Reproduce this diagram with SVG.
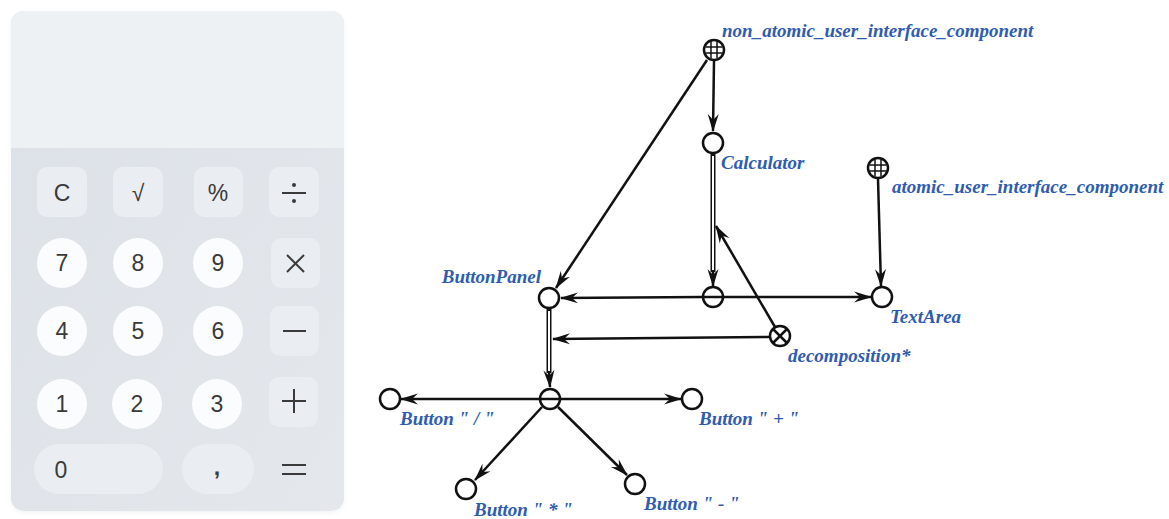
<svg xmlns="http://www.w3.org/2000/svg" width="1169" height="519" viewBox="0 0 1169 519">
  <defs>
    <marker id="arrow" viewBox="0 0 18 12" refX="17" refY="6" markerWidth="18" markerHeight="12" markerUnits="userSpaceOnUse" orient="auto">
      <path d="M0,0.5 L18,6 L0,11.5 L6,6 Z" fill="#111"/>
    </marker>
    <clipPath id="globeClip1"><circle cx="714" cy="50" r="9"/></clipPath>
    <clipPath id="globeClip2"><circle cx="878" cy="168" r="9"/></clipPath>
    <linearGradient id="padGrad" x1="0" y1="0" x2="1" y2="1">
      <stop offset="0" stop-color="#dce1e7"/>
      <stop offset="1" stop-color="#e4e8ed"/>
    </linearGradient>
    <filter id="soft" x="-10%" y="-10%" width="120%" height="120%">
      <feGaussianBlur stdDeviation="2"/>
    </filter>
  </defs>
  <style>
    .key { font-family: "Liberation Sans", Arial, sans-serif; font-size: 23px; fill: #3a3a3a; text-anchor: middle; }
    .sq { fill: #eaedf1; }
    .rd { fill: #fbfcfd; }
    .op { stroke: #3a3a3a; stroke-width: 2; fill: none; }
    .lbl { font-family: "Liberation Serif", "Times New Roman", serif; font-style: italic; font-weight: bold; font-size: 19px; fill: #2f5caf; }
    .node { fill: #fff; stroke: #111; stroke-width: 2.5; }
    .mark { stroke: #111; stroke-width: 2.5; fill: none; }
    .edge { stroke: #111; stroke-width: 2.5; fill: none; marker-end: url(#arrow); }
    .dbl-outer { stroke: #111; stroke-width: 5; fill: none; }
    .dbl-inner { stroke: #fff; stroke-width: 2; fill: none; }
  </style>

  <rect width="1169" height="519" fill="#ffffff"/>

  <!-- calculator mock-up -->
  <g id="calculator">
    <rect x="11" y="13" width="333" height="500" rx="14" fill="#e8ebef" filter="url(#soft)" opacity="0.6"/>
    <rect x="11" y="11" width="333" height="500" rx="13" fill="url(#padGrad)"/>
    <path d="M24,11 H331 A13,13 0 0 1 344,24 V148 H11 V24 A13,13 0 0 1 24,11 Z" fill="#eef1f4"/>

    <!-- row 1 -->
    <rect class="sq" x="37" y="167" width="50" height="50" rx="10"/>
    <rect class="sq" x="113" y="167" width="50" height="50" rx="10"/>
    <rect class="sq" x="194" y="167" width="49" height="50" rx="10"/>
    <rect class="sq" x="269" y="167" width="50" height="50" rx="10"/>
    <text class="key" x="62" y="201">C</text>
    <text class="key" x="138" y="201">√</text>
    <text class="key" x="218" y="201">%</text>
    <line class="op" x1="282" y1="193" x2="306" y2="193"/>
    <circle cx="294" cy="185" r="2" fill="#3a3a3a"/>
    <circle cx="294" cy="201" r="2" fill="#3a3a3a"/>

    <!-- row 2 -->
    <circle class="rd" cx="62" cy="263" r="25"/>
    <circle class="rd" cx="138" cy="263" r="25"/>
    <circle class="rd" cx="218" cy="263" r="25"/>
    <rect class="sq" x="271" y="238" width="49" height="50" rx="10"/>
    <text class="key" x="62" y="271">7</text>
    <text class="key" x="138" y="271">8</text>
    <text class="key" x="218" y="271">9</text>
    <line class="op" x1="287" y1="255" x2="304" y2="272"/>
    <line class="op" x1="304" y1="255" x2="287" y2="272"/>

    <!-- row 3 -->
    <circle class="rd" cx="62" cy="331" r="25"/>
    <circle class="rd" cx="138" cy="331" r="25"/>
    <circle class="rd" cx="218" cy="331" r="25"/>
    <rect class="sq" x="270" y="306" width="49" height="50" rx="10"/>
    <text class="key" x="62" y="339">4</text>
    <text class="key" x="138" y="339">5</text>
    <text class="key" x="218" y="339">6</text>
    <line class="op" x1="283" y1="331" x2="306" y2="331"/>

    <!-- row 4 -->
    <circle class="rd" cx="62" cy="404" r="25"/>
    <circle class="rd" cx="137" cy="404" r="25"/>
    <circle class="rd" cx="217" cy="404" r="25"/>
    <rect class="sq" x="269" y="377" width="49" height="50" rx="10"/>
    <text class="key" x="62" y="412">1</text>
    <text class="key" x="137" y="412">2</text>
    <text class="key" x="217" y="412">3</text>
    <line class="op" x1="282" y1="401" x2="306" y2="401"/>
    <line class="op" x1="294" y1="389" x2="294" y2="413"/>

    <!-- row 5 -->
    <rect class="sq" x="34" y="444" width="129" height="50" rx="25"/>
    <rect class="sq" x="182" y="444" width="72" height="50" rx="25"/>
    <text class="key" x="61" y="478" fill="#555">0</text>
    <text class="key" x="217" y="475" style="font-weight:bold">,</text>
    <line class="op" x1="282" y1="465" x2="306" y2="465"/>
    <line class="op" x1="282" y1="474" x2="306" y2="474"/>
  </g>

  <!-- connectors -->
  <g id="connectors">
    <line class="edge" x1="714" y1="61" x2="713" y2="131"/>
    <line class="edge" x1="707" y1="60" x2="556" y2="288"/>
    <line class="dbl-outer" x1="713" y1="154" x2="713" y2="272"/>
    <line class="dbl-inner" x1="713" y1="156" x2="713" y2="272"/>
    <line class="edge" x1="713" y1="270" x2="713" y2="286"/>
    <line class="edge" x1="702" y1="297" x2="561" y2="298"/>
    <line class="edge" x1="724" y1="297" x2="871" y2="297"/>
    <line class="edge" x1="878" y1="179" x2="881" y2="286"/>
    <line class="edge" x1="775" y1="327" x2="716" y2="226"/>
    <line class="edge" x1="769" y1="337" x2="553" y2="339"/>
    <line class="dbl-outer" x1="549" y1="309" x2="549" y2="373"/>
    <line class="dbl-inner" x1="549" y1="311" x2="549" y2="373"/>
    <line class="edge" x1="549" y1="371" x2="550" y2="387"/>
    <line class="edge" x1="539" y1="399" x2="401" y2="399"/>
    <line class="edge" x1="561" y1="399" x2="681" y2="399"/>
    <line class="edge" x1="542" y1="407" x2="475" y2="480"/>
    <line class="edge" x1="558" y1="407" x2="627" y2="475"/>
  </g>

  <!-- nodes -->
  <g id="non_atomic_user_interface_component">
    <circle class="node" cx="714" cy="50" r="10"/>
    <g clip-path="url(#globeClip1)" stroke="#111" stroke-width="1.5">
      <line x1="711" y1="38" x2="711" y2="62"/>
      <line x1="717" y1="38" x2="717" y2="62"/>
      <line x1="702" y1="47" x2="726" y2="47"/>
      <line x1="702" y1="53" x2="726" y2="53"/>
    </g>
    <text class="lbl" x="722" y="37">non_atomic_user_interface_component</text>
  </g>

  <g id="atomic_user_interface_component">
    <circle class="node" cx="878" cy="168" r="10"/>
    <g clip-path="url(#globeClip2)" stroke="#111" stroke-width="1.5">
      <line x1="875" y1="156" x2="875" y2="180"/>
      <line x1="881" y1="156" x2="881" y2="180"/>
      <line x1="866" y1="165" x2="890" y2="165"/>
      <line x1="866" y1="171" x2="890" y2="171"/>
    </g>
    <text class="lbl" x="892" y="193">atomic_user_interface_component</text>
  </g>

  <g id="Calculator">
    <circle class="node" cx="713" cy="143" r="10"/>
    <text class="lbl" x="721" y="169">Calculator</text>
  </g>

  <g id="Calculator_decomposition">
    <circle class="node" cx="713" cy="297" r="10"/>
    <line class="mark" x1="703" y1="297" x2="723" y2="297"/>
  </g>

  <g id="ButtonPanel">
    <circle class="node" cx="549" cy="298" r="10"/>
    <text class="lbl" x="541" y="283" text-anchor="end">ButtonPanel</text>
  </g>

  <g id="TextArea">
    <circle class="node" cx="882" cy="297" r="10"/>
    <text class="lbl" x="890" y="323">TextArea</text>
  </g>

  <g id="decomposition">
    <circle class="node" cx="780" cy="336" r="10"/>
    <line class="mark" x1="773" y1="329" x2="787" y2="343"/>
    <line class="mark" x1="787" y1="329" x2="773" y2="343"/>
    <text class="lbl" x="788" y="362">decomposition*</text>
  </g>

  <g id="ButtonPanel_decomposition">
    <circle class="node" cx="550" cy="399" r="10"/>
    <line class="mark" x1="540" y1="399" x2="560" y2="399"/>
  </g>

  <g id="Button_div">
    <circle class="node" cx="390" cy="399" r="10"/>
    <text class="lbl" x="400" y="425">Button " / "</text>
  </g>

  <g id="Button_plus">
    <circle class="node" cx="692" cy="399" r="10"/>
    <text class="lbl" x="699" y="425">Button " + "</text>
  </g>

  <g id="Button_mul">
    <circle class="node" cx="466" cy="489" r="10"/>
    <text class="lbl" x="474" y="516">Button " * "</text>
  </g>

  <g id="Button_minus">
    <circle class="node" cx="635" cy="484" r="10"/>
    <text class="lbl" x="644" y="510">Button " - "</text>
  </g>
</svg>
